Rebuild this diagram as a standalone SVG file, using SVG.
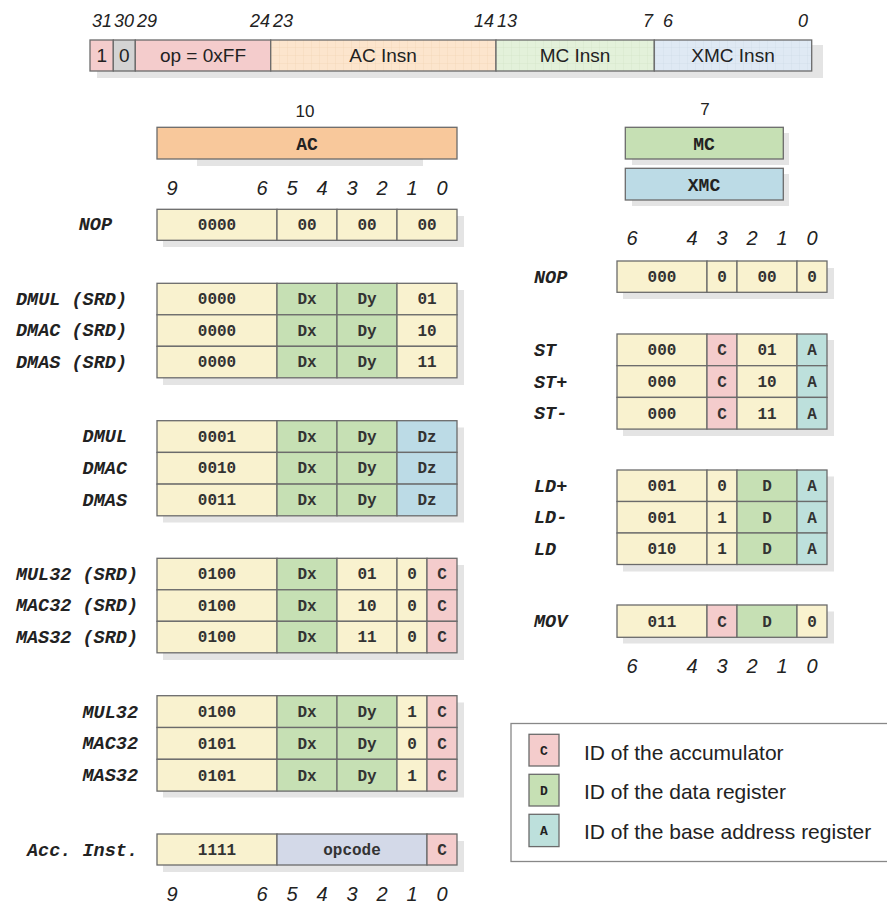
<svg xmlns="http://www.w3.org/2000/svg" width="887" height="906" viewBox="0 0 887 906">
<defs>
<style>
.c{stroke:#6b6b6b;stroke-width:1.3}
.Y{fill:#f9f2cf}.G{fill:#c6e0b4}.B{fill:#bcdbe6}.P{fill:#f4cccc}.T{fill:#bde0dc}.L{fill:#d3d9e8}.O{fill:#f8c89b}.K{fill:#d3d3d3}
.sh{fill:#e4e4e4}
.t{font-family:"Liberation Mono",monospace;font-size:16px;font-weight:bold;text-anchor:middle;fill:#333}
.h{font-family:"Liberation Mono",monospace;font-size:18px;font-weight:bold;text-anchor:middle;fill:#222}
.lb{font-family:"Liberation Mono",monospace;font-size:18.5px;font-weight:bold;font-style:italic;fill:#222}
.le{text-anchor:end}
.n{font-family:"Liberation Sans",Arial,sans-serif;font-size:20px;font-style:italic;text-anchor:middle;fill:#222}
.tn{font-family:"Liberation Sans",Arial,sans-serif;font-size:18px;font-style:italic;fill:#222}
.s{font-family:"Liberation Sans",Arial,sans-serif;font-size:19px;text-anchor:middle;fill:#222}
.lg{font-family:"Liberation Sans",Arial,sans-serif;font-size:21px;fill:#222}
.sw{font-family:"Liberation Mono",monospace;font-size:13px;font-weight:bold;text-anchor:middle;fill:#222}
</style>
<pattern id="gO" width="8" height="8" patternUnits="userSpaceOnUse"><rect width="8" height="8" fill="#fce5cd"/><path d="M8 0V8M0 8H8" stroke="#f0cfae" stroke-width="0.6"/></pattern>
<pattern id="gG" width="8" height="8" patternUnits="userSpaceOnUse"><rect width="8" height="8" fill="#e3f1da"/><path d="M8 0V8M0 8H8" stroke="#cfe3c3" stroke-width="0.6"/></pattern>
<pattern id="gB" width="8" height="8" patternUnits="userSpaceOnUse"><rect width="8" height="8" fill="#dfe9f4"/><path d="M8 0V8M0 8H8" stroke="#c8d6e6" stroke-width="0.6"/></pattern>
</defs>

<g id="instruction-word">
<rect class="sh" x="97" y="45" width="726" height="33"/>
<rect class="c P" x="90" y="40" width="23.3" height="31"/>
<rect class="c K" x="113.3" y="40" width="22" height="31"/>
<rect class="c P" x="135.3" y="40" width="135.4" height="31"/>
<rect class="c" fill="url(#gO)" x="270.7" y="40" width="225.3" height="31"/>
<rect class="c" fill="url(#gG)" x="496" y="40" width="158.3" height="31"/>
<rect class="c" fill="url(#gB)" x="654.3" y="40" width="157.4" height="31"/>
<text class="s" x="101.7" y="62">1</text>
<text class="s" x="124.3" y="62">0</text>
<text class="s" x="203" y="62">op = 0xFF</text>
<text class="s" x="383" y="62">AC Insn</text>
<text class="s" x="575" y="62">MC Insn</text>
<text class="s" x="733" y="62">XMC Insn</text>
<text class="tn" x="112" y="27" text-anchor="end">31</text>
<text class="tn" x="134" y="27" text-anchor="end">30</text>
<text class="tn" x="137" y="27">29</text>
<text class="tn" x="270" y="27" text-anchor="end">24</text>
<text class="tn" x="273" y="27">23</text>
<text class="tn" x="494" y="27" text-anchor="end">14</text>
<text class="tn" x="497" y="27">13</text>
<text class="tn" x="653" y="27" text-anchor="end">7</text>
<text class="tn" x="663" y="27">6</text>
<text class="tn" x="808" y="27" text-anchor="end">0</text>
</g>

<g id="ac-header">
<text class="s" x="305" y="117" style="font-size:17px">10</text>
<rect class="sh" x="197" y="159" width="226" height="7"/>
<rect class="c O" x="157" y="127.3" width="300" height="31.7"/>
<text class="h" x="307" y="149.5">AC</text>
<g class="n">
<text x="172" y="195">9</text><text x="262" y="195">6</text><text x="292" y="195">5</text><text x="322" y="195">4</text><text x="352" y="195">3</text><text x="382" y="195">2</text><text x="412" y="195">1</text><text x="442" y="195">0</text>
</g>
</g>

<g id="mc-header">
<text class="s" x="705" y="115" style="font-size:17px">7</text>
<rect class="sh" x="632" y="133" width="157" height="32"/>
<rect class="c G" x="625.3" y="127.3" width="158" height="31.7"/>
<text class="h" x="704" y="149.5">MC</text>
<rect class="sh" x="632" y="174" width="157" height="32"/>
<rect class="c B" x="625.3" y="168.3" width="158" height="31.7"/>
<text class="h" x="704" y="190.5">XMC</text>
<g class="n">
<text x="632" y="245">6</text><text x="692" y="245">4</text><text x="722" y="245">3</text><text x="752" y="245">2</text><text x="782" y="245">1</text><text x="812" y="245">0</text>
</g>
</g>

<g id="ac-nop">
<rect class="sh" x="163" y="216" width="301" height="31"/>
<rect class="c Y" x="157" y="209.3" width="120" height="31"/><rect class="c Y" x="277" y="209.3" width="60" height="31"/><rect class="c Y" x="337" y="209.3" width="60" height="31"/><rect class="c Y" x="397" y="209.3" width="60" height="31"/>
<text class="t" x="217" y="230">0000</text><text class="t" x="307" y="230">00</text><text class="t" x="367" y="230">00</text><text class="t" x="427" y="230">00</text>
<text class="lb le" x="112" y="230">NOP</text>
</g>

<g id="ac-dmul-srd">
<rect class="sh" x="163" y="290" width="301" height="95"/>
<rect class="c Y" x="157" y="283.3" width="120" height="31.5"/><rect class="c G" x="277" y="283.3" width="60" height="31.5"/><rect class="c G" x="337" y="283.3" width="60" height="31.5"/><rect class="c Y" x="397" y="283.3" width="60" height="31.5"/>
<rect class="c Y" x="157" y="314.8" width="120" height="31.5"/><rect class="c G" x="277" y="314.8" width="60" height="31.5"/><rect class="c G" x="337" y="314.8" width="60" height="31.5"/><rect class="c Y" x="397" y="314.8" width="60" height="31.5"/>
<rect class="c Y" x="157" y="346.3" width="120" height="31.5"/><rect class="c G" x="277" y="346.3" width="60" height="31.5"/><rect class="c G" x="337" y="346.3" width="60" height="31.5"/><rect class="c Y" x="397" y="346.3" width="60" height="31.5"/>
<text class="t" x="217" y="304">0000</text><text class="t" x="307" y="304">Dx</text><text class="t" x="367" y="304">Dy</text><text class="t" x="427" y="304">01</text>
<text class="t" x="217" y="335.5">0000</text><text class="t" x="307" y="335.5">Dx</text><text class="t" x="367" y="335.5">Dy</text><text class="t" x="427" y="335.5">10</text>
<text class="t" x="217" y="367">0000</text><text class="t" x="307" y="367">Dx</text><text class="t" x="367" y="367">Dy</text><text class="t" x="427" y="367">11</text>
<text class="lb le" x="127" y="304.5">DMUL (SRD)</text>
<text class="lb le" x="127" y="336">DMAC (SRD)</text>
<text class="lb le" x="127" y="367.5">DMAS (SRD)</text>
</g>

<g id="ac-dmul">
<rect class="sh" x="163" y="427.5" width="301" height="95"/>
<rect class="c Y" x="157" y="420.7" width="120" height="31.7"/><rect class="c G" x="277" y="420.7" width="60" height="31.7"/><rect class="c G" x="337" y="420.7" width="60" height="31.7"/><rect class="c B" x="397" y="420.7" width="60" height="31.7"/>
<rect class="c Y" x="157" y="452.4" width="120" height="31.7"/><rect class="c G" x="277" y="452.4" width="60" height="31.7"/><rect class="c G" x="337" y="452.4" width="60" height="31.7"/><rect class="c B" x="397" y="452.4" width="60" height="31.7"/>
<rect class="c Y" x="157" y="484.1" width="120" height="31.7"/><rect class="c G" x="277" y="484.1" width="60" height="31.7"/><rect class="c G" x="337" y="484.1" width="60" height="31.7"/><rect class="c B" x="397" y="484.1" width="60" height="31.7"/>
<text class="t" x="217" y="441.5">0001</text><text class="t" x="307" y="441.5">Dx</text><text class="t" x="367" y="441.5">Dy</text><text class="t" x="427" y="441.5">Dz</text>
<text class="t" x="217" y="473">0010</text><text class="t" x="307" y="473">Dx</text><text class="t" x="367" y="473">Dy</text><text class="t" x="427" y="473">Dz</text>
<text class="t" x="217" y="505">0011</text><text class="t" x="307" y="505">Dx</text><text class="t" x="367" y="505">Dy</text><text class="t" x="427" y="505">Dz</text>
<text class="lb le" x="127" y="442">DMUL</text>
<text class="lb le" x="127" y="473.5">DMAC</text>
<text class="lb le" x="127" y="505.5">DMAS</text>
</g>

<g id="ac-mul32-srd">
<rect class="sh" x="163" y="565" width="301" height="95"/>
<rect class="c Y" x="157" y="558.3" width="120" height="31.5"/><rect class="c G" x="277" y="558.3" width="60" height="31.5"/><rect class="c Y" x="337" y="558.3" width="60" height="31.5"/><rect class="c Y" x="397" y="558.3" width="30" height="31.5"/><rect class="c P" x="427" y="558.3" width="30" height="31.5"/>
<rect class="c Y" x="157" y="589.8" width="120" height="31.5"/><rect class="c G" x="277" y="589.8" width="60" height="31.5"/><rect class="c Y" x="337" y="589.8" width="60" height="31.5"/><rect class="c Y" x="397" y="589.8" width="30" height="31.5"/><rect class="c P" x="427" y="589.8" width="30" height="31.5"/>
<rect class="c Y" x="157" y="621.3" width="120" height="31.5"/><rect class="c G" x="277" y="621.3" width="60" height="31.5"/><rect class="c Y" x="337" y="621.3" width="60" height="31.5"/><rect class="c Y" x="397" y="621.3" width="30" height="31.5"/><rect class="c P" x="427" y="621.3" width="30" height="31.5"/>
<text class="t" x="217" y="579">0100</text><text class="t" x="307" y="579">Dx</text><text class="t" x="367" y="579">01</text><text class="t" x="412" y="579">0</text><text class="t" x="442" y="579">C</text>
<text class="t" x="217" y="610.5">0100</text><text class="t" x="307" y="610.5">Dx</text><text class="t" x="367" y="610.5">10</text><text class="t" x="412" y="610.5">0</text><text class="t" x="442" y="610.5">C</text>
<text class="t" x="217" y="642">0100</text><text class="t" x="307" y="642">Dx</text><text class="t" x="367" y="642">11</text><text class="t" x="412" y="642">0</text><text class="t" x="442" y="642">C</text>
<text class="lb le" x="138" y="579.5">MUL32 (SRD)</text>
<text class="lb le" x="138" y="611">MAC32 (SRD)</text>
<text class="lb le" x="138" y="642.5">MAS32 (SRD)</text>
</g>

<g id="ac-mul32">
<rect class="sh" x="163" y="702.5" width="301" height="95"/>
<rect class="c Y" x="157" y="695.7" width="120" height="31.8"/><rect class="c G" x="277" y="695.7" width="60" height="31.8"/><rect class="c G" x="337" y="695.7" width="60" height="31.8"/><rect class="c Y" x="397" y="695.7" width="30" height="31.8"/><rect class="c P" x="427" y="695.7" width="30" height="31.8"/>
<rect class="c Y" x="157" y="727.5" width="120" height="31.8"/><rect class="c G" x="277" y="727.5" width="60" height="31.8"/><rect class="c G" x="337" y="727.5" width="60" height="31.8"/><rect class="c Y" x="397" y="727.5" width="30" height="31.8"/><rect class="c P" x="427" y="727.5" width="30" height="31.8"/>
<rect class="c Y" x="157" y="759.3" width="120" height="31.8"/><rect class="c G" x="277" y="759.3" width="60" height="31.8"/><rect class="c G" x="337" y="759.3" width="60" height="31.8"/><rect class="c Y" x="397" y="759.3" width="30" height="31.8"/><rect class="c P" x="427" y="759.3" width="30" height="31.8"/>
<text class="t" x="217" y="717">0100</text><text class="t" x="307" y="717">Dx</text><text class="t" x="367" y="717">Dy</text><text class="t" x="412" y="717">1</text><text class="t" x="442" y="717">C</text>
<text class="t" x="217" y="748.5">0101</text><text class="t" x="307" y="748.5">Dx</text><text class="t" x="367" y="748.5">Dy</text><text class="t" x="412" y="748.5">0</text><text class="t" x="442" y="748.5">C</text>
<text class="t" x="217" y="780.5">0101</text><text class="t" x="307" y="780.5">Dx</text><text class="t" x="367" y="780.5">Dy</text><text class="t" x="412" y="780.5">1</text><text class="t" x="442" y="780.5">C</text>
<text class="lb le" x="138" y="717.5">MUL32</text>
<text class="lb le" x="138" y="749">MAC32</text>
<text class="lb le" x="138" y="781">MAS32</text>
</g>

<g id="ac-acc-inst">
<rect class="sh" x="163" y="841" width="301" height="31"/>
<rect class="c Y" x="157" y="834" width="120" height="31"/><rect class="c L" x="277" y="834" width="150" height="31"/><rect class="c P" x="427" y="834" width="30" height="31"/>
<text class="t" x="217" y="855">1111</text><text class="t" x="352" y="855">opcode</text><text class="t" x="442" y="855">C</text>
<text class="lb le" x="138" y="855.5">Acc. Inst.</text>
<g class="n">
<text x="172" y="901">9</text><text x="262" y="901">6</text><text x="292" y="901">5</text><text x="322" y="901">4</text><text x="352" y="901">3</text><text x="382" y="901">2</text><text x="412" y="901">1</text><text x="442" y="901">0</text>
</g>
</g>

<g id="mc-nop">
<rect class="sh" x="623" y="268" width="211" height="31"/>
<rect class="c Y" x="617" y="261" width="90" height="31.3"/><rect class="c Y" x="707" y="261" width="30" height="31.3"/><rect class="c Y" x="737" y="261" width="60" height="31.3"/><rect class="c Y" x="797" y="261" width="30" height="31.3"/>
<text class="t" x="662" y="282">000</text><text class="t" x="722" y="282">0</text><text class="t" x="767" y="282">00</text><text class="t" x="812" y="282">0</text>
<text class="lb" x="534" y="282.5">NOP</text>
</g>

<g id="mc-st">
<rect class="sh" x="623" y="340" width="211" height="96"/>
<rect class="c Y" x="617" y="334" width="90" height="31.7"/><rect class="c P" x="707" y="334" width="30" height="31.7"/><rect class="c Y" x="737" y="334" width="60" height="31.7"/><rect class="c T" x="797" y="334" width="30" height="31.7"/>
<rect class="c Y" x="617" y="365.7" width="90" height="31.7"/><rect class="c P" x="707" y="365.7" width="30" height="31.7"/><rect class="c Y" x="737" y="365.7" width="60" height="31.7"/><rect class="c T" x="797" y="365.7" width="30" height="31.7"/>
<rect class="c Y" x="617" y="397.4" width="90" height="31.7"/><rect class="c P" x="707" y="397.4" width="30" height="31.7"/><rect class="c Y" x="737" y="397.4" width="60" height="31.7"/><rect class="c T" x="797" y="397.4" width="30" height="31.7"/>
<text class="t" x="662" y="355">000</text><text class="t" x="722" y="355">C</text><text class="t" x="767" y="355">01</text><text class="t" x="812" y="355">A</text>
<text class="t" x="662" y="387">000</text><text class="t" x="722" y="387">C</text><text class="t" x="767" y="387">10</text><text class="t" x="812" y="387">A</text>
<text class="t" x="662" y="418.5">000</text><text class="t" x="722" y="418.5">C</text><text class="t" x="767" y="418.5">11</text><text class="t" x="812" y="418.5">A</text>
<text class="lb" x="534" y="356">ST</text>
<text class="lb" x="534" y="387.5">ST+</text>
<text class="lb" x="534" y="419">ST-</text>
</g>

<g id="mc-ld">
<rect class="sh" x="623" y="476.5" width="211" height="95"/>
<rect class="c Y" x="617" y="470" width="90" height="31.5"/><rect class="c Y" x="707" y="470" width="30" height="31.5"/><rect class="c G" x="737" y="470" width="60" height="31.5"/><rect class="c T" x="797" y="470" width="30" height="31.5"/>
<rect class="c Y" x="617" y="501.5" width="90" height="31.5"/><rect class="c Y" x="707" y="501.5" width="30" height="31.5"/><rect class="c G" x="737" y="501.5" width="60" height="31.5"/><rect class="c T" x="797" y="501.5" width="30" height="31.5"/>
<rect class="c Y" x="617" y="533" width="90" height="31.5"/><rect class="c Y" x="707" y="533" width="30" height="31.5"/><rect class="c G" x="737" y="533" width="60" height="31.5"/><rect class="c T" x="797" y="533" width="30" height="31.5"/>
<text class="t" x="662" y="491">001</text><text class="t" x="722" y="491">0</text><text class="t" x="767" y="491">D</text><text class="t" x="812" y="491">A</text>
<text class="t" x="662" y="522.5">001</text><text class="t" x="722" y="522.5">1</text><text class="t" x="767" y="522.5">D</text><text class="t" x="812" y="522.5">A</text>
<text class="t" x="662" y="554">010</text><text class="t" x="722" y="554">1</text><text class="t" x="767" y="554">D</text><text class="t" x="812" y="554">A</text>
<text class="lb" x="534" y="491.5">LD+</text>
<text class="lb" x="534" y="523">LD-</text>
<text class="lb" x="534" y="554.5">LD</text>
</g>

<g id="mc-mov">
<rect class="sh" x="623" y="611.5" width="211" height="32"/>
<rect class="c Y" x="617" y="605" width="90" height="32.3"/><rect class="c P" x="707" y="605" width="30" height="32.3"/><rect class="c G" x="737" y="605" width="60" height="32.3"/><rect class="c Y" x="797" y="605" width="30" height="32.3"/>
<text class="t" x="662" y="626.5">011</text><text class="t" x="722" y="626.5">C</text><text class="t" x="767" y="626.5">D</text><text class="t" x="812" y="626.5">0</text>
<text class="lb" x="534" y="627">MOV</text>
<g class="n">
<text x="632" y="673">6</text><text x="692" y="673">4</text><text x="722" y="673">3</text><text x="752" y="673">2</text><text x="782" y="673">1</text><text x="812" y="673">0</text>
</g>
</g>

<g id="legend">
<rect x="511" y="723.5" width="390" height="138" fill="#ffffff" stroke="#888" stroke-width="1.3"/>
<rect class="c P" x="529" y="734.3" width="30" height="31.7"/>
<text class="sw" x="544" y="755">C</text>
<text class="lg" x="584" y="760">ID of the accumulator</text>
<rect class="c G" x="529" y="774.3" width="30" height="31.7"/>
<text class="sw" x="544" y="795">D</text>
<text class="lg" x="584" y="798.5">ID of the data register</text>
<rect class="c T" x="529" y="814.3" width="30" height="32.3"/>
<text class="sw" x="544" y="835">A</text>
<text class="lg" x="584" y="838.5">ID of the base address register</text>
</g>
</svg>
